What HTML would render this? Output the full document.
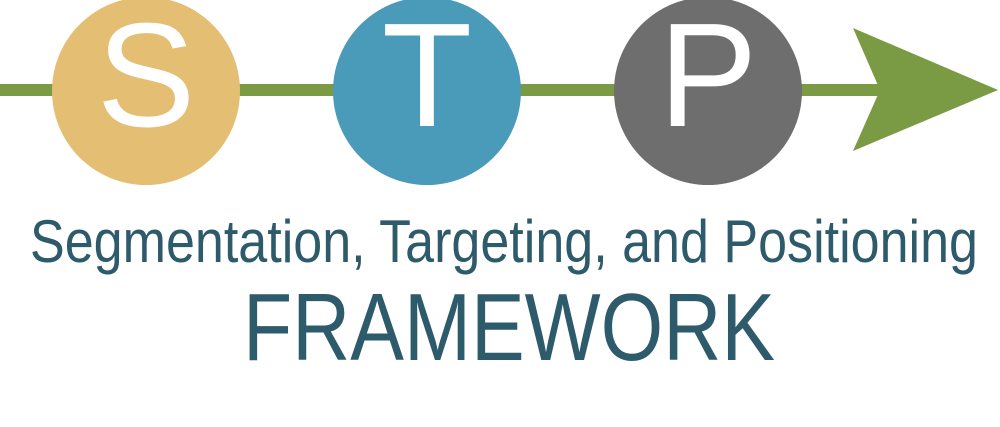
<!DOCTYPE html>
<html>
<head>
<meta charset="utf-8">
<style>
  html,body{margin:0;padding:0;background:#fff;}
  svg{display:block;}
</style>
</head>
<body>
<svg width="1000" height="427" viewBox="0 0 1000 427" xmlns="http://www.w3.org/2000/svg">
  <rect x="0" y="0" width="1000" height="427" fill="#ffffff"/>
  <rect x="0" y="84" width="880" height="12" fill="#7A9A43"/>
  <polygon points="853,28 998,90 853,151 880,90" fill="#7A9A43"/>
  <g>
    <circle cx="146" cy="91" r="94" fill="#E4BF73"/>
    <text x="146" y="126" text-anchor="middle" font-family="Liberation Sans, sans-serif" font-size="148" fill="#ffffff">S</text>
  </g>
  <g>
    <circle cx="427" cy="91" r="94" fill="#4A9AB9"/>
    <text x="427" y="126" text-anchor="middle" font-family="Liberation Sans, sans-serif" font-size="148" fill="#ffffff">T</text>
  </g>
  <g>
    <circle cx="708" cy="91" r="94" fill="#6E6E6E"/>
    <text x="708" y="126" text-anchor="middle" font-family="Liberation Sans, sans-serif" font-size="148" fill="#ffffff">P</text>
  </g>
  <text x="30" y="262" textLength="948" lengthAdjust="spacingAndGlyphs" font-family="Liberation Sans, sans-serif" font-size="60" fill="#2E5B6B">Segmentation, Targeting, and Positioning</text>
  <text x="243" y="360" textLength="532" lengthAdjust="spacingAndGlyphs" font-family="Liberation Sans, sans-serif" font-size="96" fill="#2E5B6B">FRAMEWORK</text>
</svg>
</body>
</html>
